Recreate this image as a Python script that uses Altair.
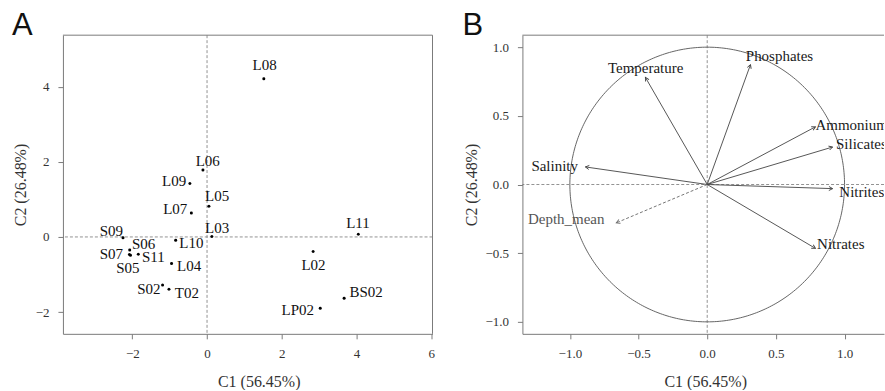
import numpy as np
import pandas as pd
import altair as alt

# ---------------- Panel A : sites ----------------
sites = ["L08", "L06", "L09", "L05", "L07", "L03", "L11", "S09", "S06", "S07",
         "S05", "S11", "L10", "L04", "L02", "S02", "T02", "BS02", "LP02"]
c1 = [1.52, -0.11, -0.46, 0.05, -0.42, 0.13, 4.05, -2.25, -2.07, -2.08,
      -2.05, -1.84, -0.84, -0.95, 2.84, -1.19, -1.02, 3.67, 3.03]
c2 = [4.21, 1.78, 1.42, 0.82, 0.64, 0.01, 0.07, -0.02, -0.35, -0.47,
      -0.49, -0.46, -0.09, -0.71, -0.39, -1.28, -1.39, -1.63, -1.90]
# label anchor (centre x, baseline y) in data units
site_lab_x = [1.54, 0.02, -0.88, 0.27, -0.85, 0.27, 4.04, -2.56, -1.70, -2.56,
              -2.12, -1.44, -0.42, -0.48, 2.85, -1.56, -0.54, 4.26, 2.43]
site_lab_y = [4.44, 1.88, 1.36, 0.97, 0.60, 0.11, 0.25, 0.03, -0.33, -0.59,
              -0.96, -0.66, -0.29, -0.92, -0.88, -1.52, -1.62, -1.59, -2.07]
ticks_xA = [-2, 0, 2, 4, 6]
ticks_yA = [-2, 0, 2, 4]

# ---------------- Panel B : variables ----------------
variables = ["Temperature", "Phosphates", "Ammonium", "Silicates", "Salinity",
             "Nitrites", "Nitrates", "Depth_mean"]
load1 = [-0.45, 0.315, 0.788, 0.913, -0.887, 0.913, 0.788, -0.662]
load2 = [0.78, 0.873, 0.42, 0.273, 0.128, -0.03, -0.465, -0.279]
var_lab_x = [-0.723, 0.281, 0.788, 0.938, -1.28, 0.962, 0.80, -1.305]
var_lab_y = [0.813, 0.902, 0.40, 0.255, 0.102, -0.092, -0.473, -0.291]
supplementary = ["Depth_mean"]
ticks_B = [-1.0, -0.5, 0.0, 0.5, 1.0]

SERIF = "Liberation Serif"
SANS = "Liberation Sans"
FRAME = "#7a7a7a"

WA, HA = 370, 299
WB, HB = 362, 299

# ---------------- data frames ----------------
dfA = pd.DataFrame({"site": sites, "x": c1, "y": c2, "lx": site_lab_x, "ly": site_lab_y})
dfB = pd.DataFrame({"var": variables, "x": load1, "y": load2,
                    "lx": var_lab_x, "ly": var_lab_y})
dfB["x0"] = 0.0
dfB["y0"] = 0.0
dfB["ang"] = (np.degrees(np.arctan2(dfB["x"], dfB["y"])) + 360) % 360
dfB["role"] = np.where(dfB["var"].isin(supplementary), "sup", "act")

theta = np.linspace(0, 2 * np.pi, 361)
circle = pd.DataFrame({"i": np.arange(361), "x": np.cos(theta), "y": np.sin(theta)})
origin = pd.DataFrame({"x": [0.0], "y": [0.0]})

# ---------------- scales & axes ----------------
xsA = alt.Scale(domain=[-3.858, 6.036], nice=False, zero=False)
ysA = alt.Scale(domain=[-2.58, 5.372], nice=False, zero=False)
xsB = alt.Scale(domain=[-1.3455, -1.3455 + WB / 137.5], nice=False, zero=False)
ysB = alt.Scale(domain=[-1.0873, 1.0873], nice=False, zero=False)

common = dict(labelFlush=False, labelOverlap=False, labelBound=False, domain=True,
              ticks=True, grid=False)

axXA = alt.Axis(values=ticks_xA, title="C1 (56.45%)", titleX=196, titleY=53,
                titleBaseline="alphabetic", titleAlign="center",
                labelBaseline="alphabetic", labelPadding=19, **common)
axYA = alt.Axis(values=ticks_yA, title="C2 (26.48%)", titleX=-37, titleY=HA / 2,
                titleBaseline="alphabetic", titleAlign="center", labelPadding=9, **common)
axXB = alt.Axis(values=ticks_B, format=".1f", title="C1 (56.45%)", titleX=183, titleY=53,
                titleBaseline="alphabetic", titleAlign="center",
                labelBaseline="alphabetic", labelPadding=19, **common)
axYB = alt.Axis(values=ticks_B, format=".1f", title="C2 (26.48%)", titleX=-46, titleY=HB / 2,
                titleBaseline="alphabetic", titleAlign="center", labelPadding=9, **common)


def XA(f):
    return alt.X(f, type="quantitative", scale=xsA, axis=axXA)


def YA(f):
    return alt.Y(f, type="quantitative", scale=ysA, axis=axYA)


def XB(f):
    return alt.X(f, type="quantitative", scale=xsB, axis=axXB)


def YB(f):
    return alt.Y(f, type="quantitative", scale=ysB, axis=axYB)


# ---------------- Panel A ----------------
baseA = alt.Chart(dfA)
vA = alt.Chart(origin).mark_rule(color="#777", strokeDash=[3, 2], strokeWidth=0.8).encode(x=XA("x"))
hA = alt.Chart(origin).mark_rule(color="#777", strokeDash=[3, 2], strokeWidth=0.8).encode(y=YA("y"))
ptsA = baseA.mark_circle(size=9, color="#000", opacity=1).encode(x=XA("x"), y=YA("y"))
labA = baseA.mark_text(font=SERIF, fontSize=15, align="center", baseline="alphabetic",
                       color="#111").encode(x=XA("lx"), y=YA("ly"), text="site:N")
topA = alt.Chart(origin).mark_rule(color=FRAME).encode(
    x=alt.value(0), x2=alt.value(WA), y=alt.value(0))
rightA = alt.Chart(origin).mark_rule(color=FRAME).encode(
    x=alt.value(WA), y=alt.value(0), y2=alt.value(HA))
letterA = alt.Chart(pd.DataFrame({"t": ["A"]})).mark_text(
    font=SANS, fontSize=31, align="left", baseline="alphabetic", color="#111"
).encode(x=alt.value(-51), y=alt.value(0), text="t:N")

panelA = alt.layer(vA, hA, ptsA, labA, topA, rightA, letterA).properties(width=WA, height=HA)

# ---------------- Panel B ----------------
baseB = alt.Chart(dfB)
vB = alt.Chart(origin).mark_rule(color="#777", strokeDash=[3, 2], strokeWidth=0.8).encode(x=XB("x"))
hB = alt.Chart(origin).mark_rule(color="#777", strokeDash=[3, 2], strokeWidth=0.8).encode(y=YB("y"))
circ = alt.Chart(circle).mark_line(color="#555", strokeWidth=0.9).encode(
    x=XB("x"), y=YB("y"), order="i:Q")
arrows = baseB.transform_filter(alt.datum.role == "act").mark_rule(
    color="#444", strokeWidth=0.9).encode(x=XB("x0"), y=YB("y0"), x2="x:Q", y2="y:Q")
arrowsSup = baseB.transform_filter(alt.datum.role == "sup").mark_rule(
    color="#666", strokeWidth=0.9, strokeDash=[3, 2]).encode(x=XB("x0"), y=YB("y0"), x2="x:Q", y2="y:Q")
headPath = "M-0.55,1L0,0L0.55,1"
heads = baseB.transform_filter(alt.datum.role == "act").mark_point(
    shape=headPath, filled=False, color="#444", strokeWidth=0.9, size=55, opacity=1
).encode(x=XB("x"), y=YB("y"), angle=alt.Angle("ang:Q", scale=None))
headsSup = baseB.transform_filter(alt.datum.role == "sup").mark_point(
    shape=headPath, filled=False, color="#666", strokeWidth=0.9, size=55, opacity=1
).encode(x=XB("x"), y=YB("y"), angle=alt.Angle("ang:Q", scale=None))
labB = baseB.transform_filter(alt.datum.role == "act").mark_text(
    font=SERIF, fontSize=15, align="left", baseline="alphabetic", color="#1a1a1a", clip=True
).encode(x=XB("lx"), y=YB("ly"), text="var:N")
labBSup = baseB.transform_filter(alt.datum.role == "sup").mark_text(
    font=SERIF, fontSize=15, align="left", baseline="alphabetic", color="#555", clip=True
).encode(x=XB("lx"), y=YB("ly"), text="var:N")
topB = alt.Chart(origin).mark_rule(color=FRAME).encode(
    x=alt.value(0), x2=alt.value(WB), y=alt.value(0))
letterB = alt.Chart(pd.DataFrame({"t": ["B"]})).mark_text(
    font=SANS, fontSize=31, align="left", baseline="alphabetic", color="#111"
).encode(x=alt.value(-60), y=alt.value(0), text="t:N")

panelB = alt.layer(vB, hB, circ, arrows, arrowsSup, heads, headsSup, labB, labBSup,
                   topB, letterB).properties(width=WB, height=HB)

chart = alt.hconcat(panelA, panelB, spacing=90, bounds="flush").properties(
    padding={"left": 12, "top": 10, "right": 0, "bottom": 0},
    background="white",
).configure_view(stroke=None).configure_axis(
    labelFont=SERIF, labelFontSize=13, labelColor="#333",
    titleFont=SERIF, titleFontSize=16, titleFontWeight="normal", titleColor="#333",
    tickColor=FRAME, tickSize=5, domainColor=FRAME, tickWidth=1, domainWidth=1,
)

chart.save("out.html", embed_options={"renderer": "svg", "actions": False})
